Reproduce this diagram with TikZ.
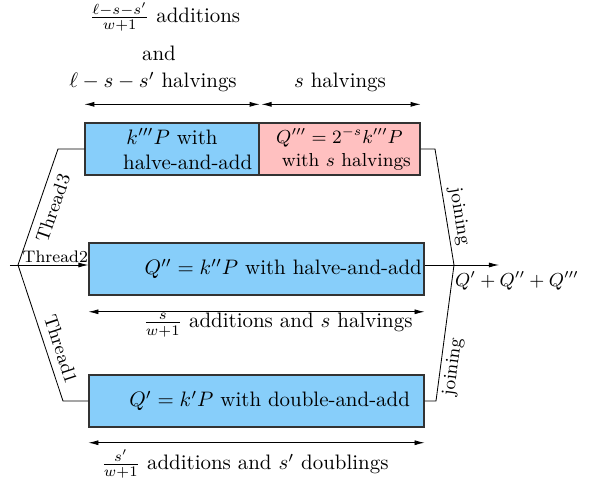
\documentclass[tikz,border=0pt]{standalone}
\usepackage{amsmath}
\usepackage{xcolor}
\usepackage{tikz}
\usetikzlibrary{arrows.meta,calc}
\definecolor{skyb}{RGB}{135,206,250}
\definecolor{rosy}{RGB}{255,192,192}
\tikzset{
  px/.style={x=0.478pt, y=-0.478pt},
  t box/.style={draw=black!80, line width=0.6pt, minimum height=24.9pt, inner xsep=1pt, inner ysep=1pt},
  t blue/.style={t box, fill=skyb},
  t pink/.style={t box, fill=rosy, font=\small, align=center},
  t thr/.style={font=\small, inner sep=3.5pt},
  t join/.style={font=\small, inner sep=2pt},
  t arr/.style={-{Latex[length=4.8pt, width=2.4pt]}},
  t dim/.style={{Latex[length=4.8pt, width=2.4pt]}-{Latex[length=4.8pt, width=2.4pt]}},
}
\begin{document}
\begin{tikzpicture}[px]
\useasboundingbox (0,0) rectangle (592,483);
\node[t blue, minimum width=83.2pt, align=center] (k3) at (172,149) {$k'''P$ with\\\hspace*{15pt}halve-and-add};
\node[t pink, minimum width=77pt] (q3) at (339.5,149) {$Q'''=2^{-s}k'''P$\\\hspace*{6.5pt}with $s$ halvings};
\node[t blue, minimum width=160.1pt] (k2) at (256.5,269) {\makebox[158.1pt][r]{$Q''=k''P$ with halve-and-add}};
\node[t blue, minimum width=160.1pt] (k1) at (256.5,401) {\makebox[158.1pt][r]{$Q'=k'P$ with double-and-add\hspace*{5.7pt}}};
\node (nadd) at (165,17) {$\frac{\ell-s-s'}{w+1}$ additions};
\node (nand) at (159,53) {and};
\node (nhalv) at (153,82) {$\ell-s-s'$ halvings};
\node (nsh) at (340,82) {$s$ halvings};
\node (nmid) at (278,325) {$\frac{s}{w+1}$ additions and $s$ halvings};
\node (nbot) at (245,464) {$\frac{s'}{w+1}$ additions and $s'$ doublings};
\node[font=\small] (nsum) at (517,281) {$Q'+Q''+Q'''$};
\coordinate (stub) at (10,265); \coordinate (fork) at (18,265);
\coordinate (tin) at (58,149); \coordinate (bin) at (63,401);
\coordinate (tout) at (435,149); \coordinate (bout) at (436,401);
\coordinate (join) at (454,265); \coordinate (out) at (499,265);
\draw[t dim] ([yshift=8.6pt]k3.north west) -- ([yshift=8.6pt]k3.north east);
\draw[t dim] ([xshift=1.5pt, yshift=8.6pt]q3.north west) -- ([yshift=8.6pt]q3.north east);
\draw[t dim] ([yshift=-7.7pt]k2.south west) -- ([yshift=-7.7pt]k2.south east);
\draw[t dim] ([yshift=-7.2pt]k1.south west) -- ([yshift=-7.2pt]k1.south east);
\draw (stub) -- (fork);
\draw (fork) -- node[t thr, sloped, below, pos=0.53] {Thread3} (tin) -- (k3.west);
\draw[t arr] (fork) -- node[font=\footnotesize, above, inner sep=0.8pt, pos=0.53] {Thread2} (fork -| k2.west);
\draw (fork) -- node[t thr, sloped, above, pos=0.65] {Thread1} (bin) -- (k1.west);
\draw (q3.east) -- (tout) -- node[t join, sloped, above, pos=0.6] {joining} (join);
\draw (join -| k2.east) -- (join); \draw[t arr] (join) -- (out);
\draw (k1.east) -- (bout) -- node[t join, sloped, below, pos=0.26] {joining} (join);
\end{tikzpicture}
\end{document}
